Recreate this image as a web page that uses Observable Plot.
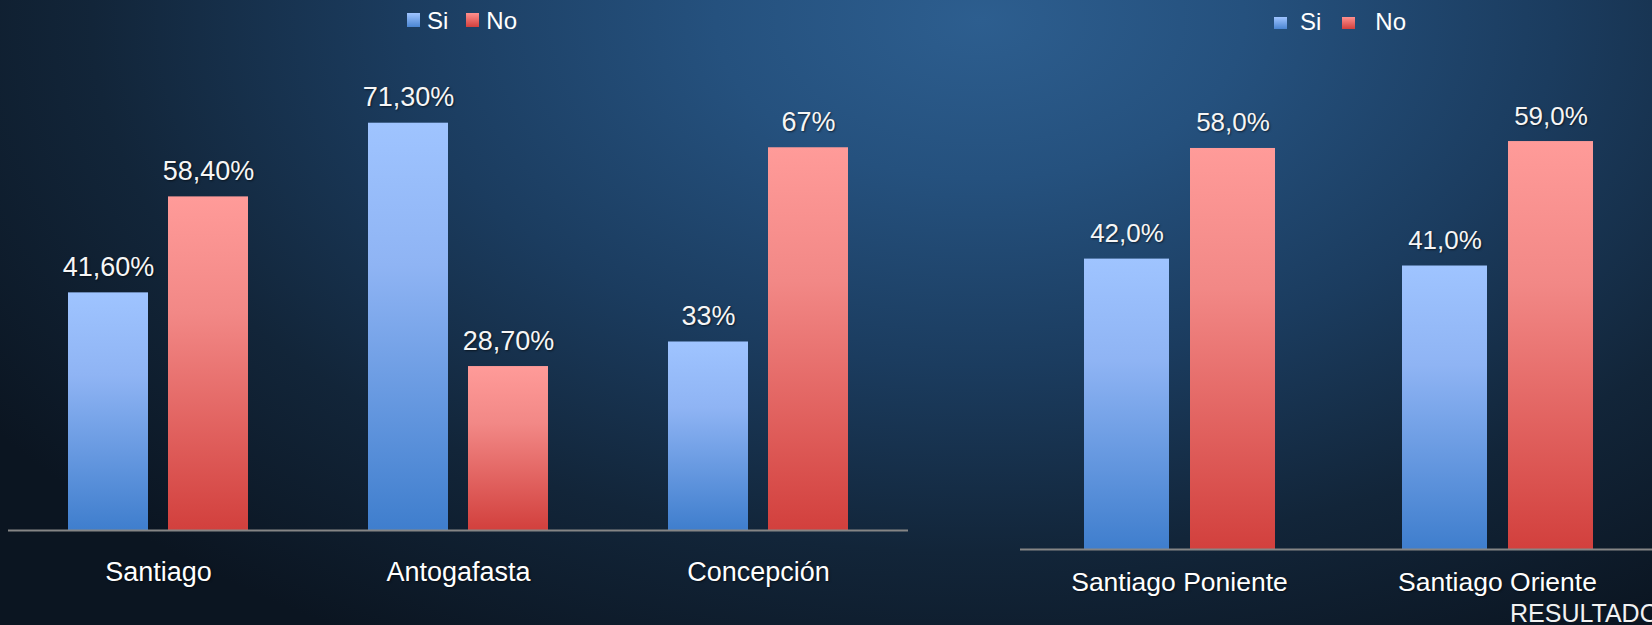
<!DOCTYPE html>
<html>
<head>
<meta charset="utf-8">
<script src="https://cdn.jsdelivr.net/npm/d3@7"></script>
<script src="https://cdn.jsdelivr.net/npm/@observablehq/plot@0.6"></script>
<style>
  html, body { margin: 0; padding: 0; width: 1652px; height: 625px; overflow: hidden; }
  #bg {
    position: absolute; left: 0; top: 0; width: 1652px; height: 625px;
    background:
      radial-gradient(ellipse 1200px 720px at 980px 20px, #2d5e8f 0%, #25517e 22%, #1b3c5f 48%, #122539 74%, #0b1521 100%);
  }
  .chart { position: absolute; left: 0; top: 0; }
  .chart svg text { text-shadow: 1px 1px 2px rgba(0,0,0,0.55); }
  .legend {
    position: absolute; display: flex; align-items: flex-start;
    font-family: "Liberation Sans", Arial, sans-serif; font-size: 24px; line-height: 28px; color: #fff;
    white-space: nowrap;
  }
  .legend .sw { display: inline-block; }
  #footer {
    position: absolute; left: 1510px; top: 601px;
    font-family: "Liberation Sans", Arial, sans-serif; font-size: 25px; line-height: 25px;
    color: #f2f2f2; white-space: nowrap;
  }
</style>
</head>
<body>
<div id="bg"></div>
<svg width="0" height="0" style="position:absolute">
  <defs>
    <linearGradient id="gSi" x1="0" y1="0" x2="0" y2="1">
      <stop offset="0" stop-color="#9fc4ff"/>
      <stop offset="0.35" stop-color="#8fb4f4"/>
      <stop offset="1" stop-color="#3f7ecd"/>
    </linearGradient>
    <linearGradient id="gNo" x1="0" y1="0" x2="0" y2="1">
      <stop offset="0" stop-color="#ff9b99"/>
      <stop offset="0.35" stop-color="#f28886"/>
      <stop offset="1" stop-color="#d2403d"/>
    </linearGradient>
  </defs>
</svg>
<div id="left" class="chart"></div>
<div id="right" class="chart"></div>
<div id="legendLeft" class="legend"></div>
<div id="legendRight" class="legend"></div>
<div id="footer"></div>
<script>
// ---- data ----
const series = ["Si", "No"];

const leftCategories = ["Santiago", "Antogafasta", "Concepción"];
const leftSi = [41.6, 71.3, 33];
const leftNo = [58.4, 28.7, 67];
const leftSiLabels = ["41,60%", "71,30%", "33%"];
const leftNoLabels = ["58,40%", "28,70%", "67%"];

const rightCategories = ["Santiago Poniente", "Santiago Oriente"];
const rightSi = [42.0, 41.0];
const rightNo = [58.0, 59.0];
const rightSiLabels = ["42,0%", "41,0%"];
const rightNoLabels = ["58,0%", "59,0%"];

const footerText = "RESULTADO";

// ---- build rows ----
function rows(cats, si, no, siL, noL) {
  const out = [];
  cats.forEach((c, i) => {
    out.push({category: c, series: "Si", value: si[i], label: siL[i]});
    out.push({category: c, series: "No", value: no[i], label: noL[i]});
  });
  return out;
}

const fillRange = ["url(#gSi)", "url(#gNo)"];
const FONT = "Liberation Sans, Arial, sans-serif";

function chart(data, cats, o) {
  return Plot.plot({
    width: o.width, height: 625,
    marginLeft: o.ml, marginRight: o.mr, marginTop: o.mt, marginBottom: o.mb,
    style: {background: "transparent", fontFamily: FONT, color: "#fff", overflow: "visible", maxWidth: "none"},
    fx: {domain: cats, padding: 0, label: null},
    x: {domain: series, paddingInner: 0.2, paddingOuter: 0.6, axis: null},
    y: {domain: [0, o.ymax], axis: null},
    color: {domain: series, range: fillRange},
    marks: [
      Plot.barY(data, {fx: "category", x: "series", y: "value", fill: "series"}),
      Plot.ruleY([0], {stroke: "#858585", strokeWidth: 2}),
      Plot.text(data, {fx: "category", x: "series", y: "value", text: "label",
        lineAnchor: "bottom", dy: -17, fill: "#f6f6f6", fontSize: o.vfs}),
      Plot.axisFx({anchor: "bottom", tickSize: 0, tickPadding: o.tp, fontSize: o.cfs,
        fill: "#fff", label: null})
    ]
  });
}

document.getElementById("left").append(
  chart(rows(leftCategories, leftSi, leftNo, leftSiLabels, leftNoLabels), leftCategories,
    {width: 1652, ml: 8, mr: 744, mt: 73, mb: 95, ymax: 80, vfs: 27, cfs: 27, tp: 31})
);
const rightDiv = document.getElementById("right");
rightDiv.style.width = "1656px";
rightDiv.append(
  chart(rows(rightCategories, rightSi, rightNo, rightSiLabels, rightNoLabels), rightCategories,
    {width: 1656, ml: 1020, mr: 0, mt: 65, mb: 76, ymax: 70, vfs: 26, cfs: 26.5, tp: 23})
);

// ---- legends ----
const swatchCSS = {
  Si: "linear-gradient(#9fc4ff, #4a85d2)",
  No: "linear-gradient(#ff8f8d, #d2403d)"
};
function legend(id, o) {
  const el = document.getElementById(id);
  el.style.left = o.left + "px";
  el.style.top = o.top + "px";
  series.forEach((s, i) => {
    const sw = document.createElement("span");
    sw.className = "sw";
    sw.style.width = o.sw + "px";
    sw.style.height = o.sh + "px";
    sw.style.marginTop = o.sy + "px";
    sw.style.background = swatchCSS[s];
    sw.style.marginLeft = (i === 0 ? 0 : o.itemGap[i - 1]) + "px";
    sw.style.marginRight = o.textGap[i] + "px";
    const t = document.createElement("span");
    t.textContent = s;
    el.append(sw, t);
  });
}
legend("legendLeft", {left: 407, top: 7, sw: 13, sh: 14, sy: 6, textGap: [7, 7], itemGap: [18]});
legend("legendRight", {left: 1274, top: 8, sw: 13, sh: 12.5, sy: 8.5, textGap: [13, 20], itemGap: [21]});

document.getElementById("footer").textContent = footerText;
</script>
</body>
</html>
